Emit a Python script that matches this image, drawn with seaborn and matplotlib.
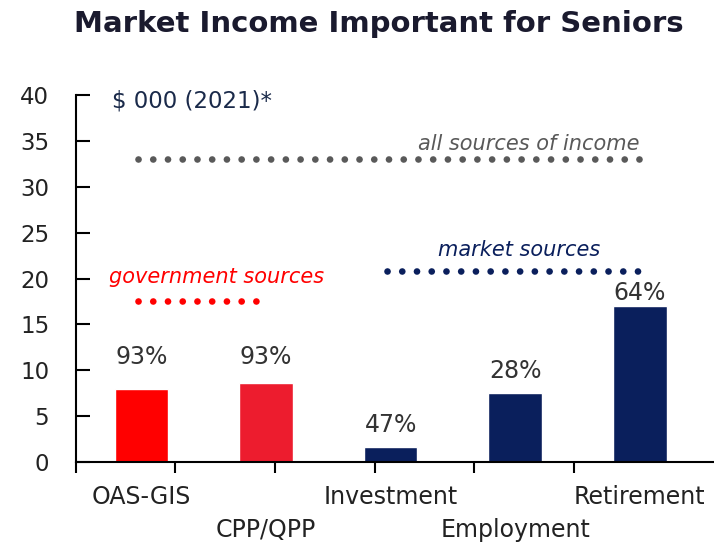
import numpy as np
import pandas as pd
import matplotlib
matplotlib.use("Agg")
import matplotlib.pyplot as plt
import matplotlib.transforms as mtransforms
import seaborn as sns

categories = ["OAS-GIS", "CPP/QPP", "Investment", "Employment", "Retirement"]
values = [8.0, 8.6, 1.6, 7.5, 17.0]
pct_labels = ["93%", "93%", "47%", "28%", "64%"]
bar_colors = ["#FF0000", "#ED1C2E", "#0A1F5C", "#0A1F5C", "#0A1F5C"]
yticks = [0, 5, 10, 15, 20, 25, 30, 35, 40]

all_level = 33.0
gov_level = 17.6
mkt_level = 20.8

sns.set_theme(style="white")
plt.rcParams["font.family"] = ["DejaVu Sans"]

fig = plt.figure(figsize=(7.14, 5.43), dpi=100)
ax = fig.add_axes([0.106, 0.149, 0.893, 0.676])

df = pd.DataFrame({"cat": categories, "val": values})
sns.barplot(data=df, x="cat", y="val", hue="cat", palette=bar_colors,
            width=0.43, legend=False, ax=ax, saturation=1)

xlo, xhi = -0.528, 4.59
ax.set_xlim(xlo, xhi)
ax.set_ylim(0, 40)
ax.set_yticks(yticks)
ax.set_yticklabels([str(t) for t in yticks], fontsize=16.5, color="#222222")
ax.tick_params(axis="y", direction="in", length=10, width=1.5, color="black", pad=19, left=True)

# boundary ticks without labels
ax.set_xticks([xlo + 0.8 * k for k in range(6)])
ax.set_xticklabels([])
ax.tick_params(axis="x", which="major", direction="out", length=8, width=1.5, color="black", bottom=True)
ax.set_xlabel("")
ax.set_ylabel("")

# category labels in two staggered rows
trans = mtransforms.blended_transform_factory(ax.transData, ax.transAxes)
for i, c in enumerate(categories):
    yrow = -0.095 if i % 2 == 0 else -0.185
    ax.text(i, yrow, c, transform=trans, ha="center", va="center",
            fontsize=17, color="#222222")

for s in ["top", "right"]:
    ax.spines[s].set_visible(False)
for s in ["left", "bottom"]:
    ax.spines[s].set_color("black")
    ax.spines[s].set_linewidth(1.5)

# percentage labels
offsets = [3.45, 2.85, 2.43, 2.42, 1.43]
for i, (v, lab) in enumerate(zip(values, pct_labels)):
    ax.text(i, v + offsets[i], lab, ha="center", va="center", fontsize=17, color="#333333")

dash = (0, (0.01, 2.2))
for xs, lvl, col in [([-0.03, 4.03], all_level, "#595959"),
                     ([-0.03, 0.96], gov_level, "#FF0000"),
                     ([1.97, 4.03], mkt_level, "#0A1F5C")]:
    ax.plot(xs, [lvl, lvl], color=col, lw=4.8, linestyle=dash,
            dash_capstyle="round", solid_capstyle="round")

ax.text(4.0, all_level + 1.7, "all sources of income", ha="right", va="center",
        fontsize=15, style="italic", color="#595959")
ax.text(3.03, mkt_level + 2.3, "market sources", ha="center", va="center",
        fontsize=15, style="italic", color="#0A1F5C")
ax.text(-0.26, gov_level + 2.6, "government sources", ha="left", va="center",
        fontsize=15, style="italic", color="#FF0000")
ax.text(-0.24, 39.4, "$ 000 (2021)*", ha="left", va="center",
        fontsize=16.5, color="#1a2a4a")

fig.text(0.53, 0.955, "Market Income Important for Seniors", ha="center", va="center",
         fontsize=21, fontweight="bold", color="#1a1a2e")

fig.savefig("out.png", dpi=100)
